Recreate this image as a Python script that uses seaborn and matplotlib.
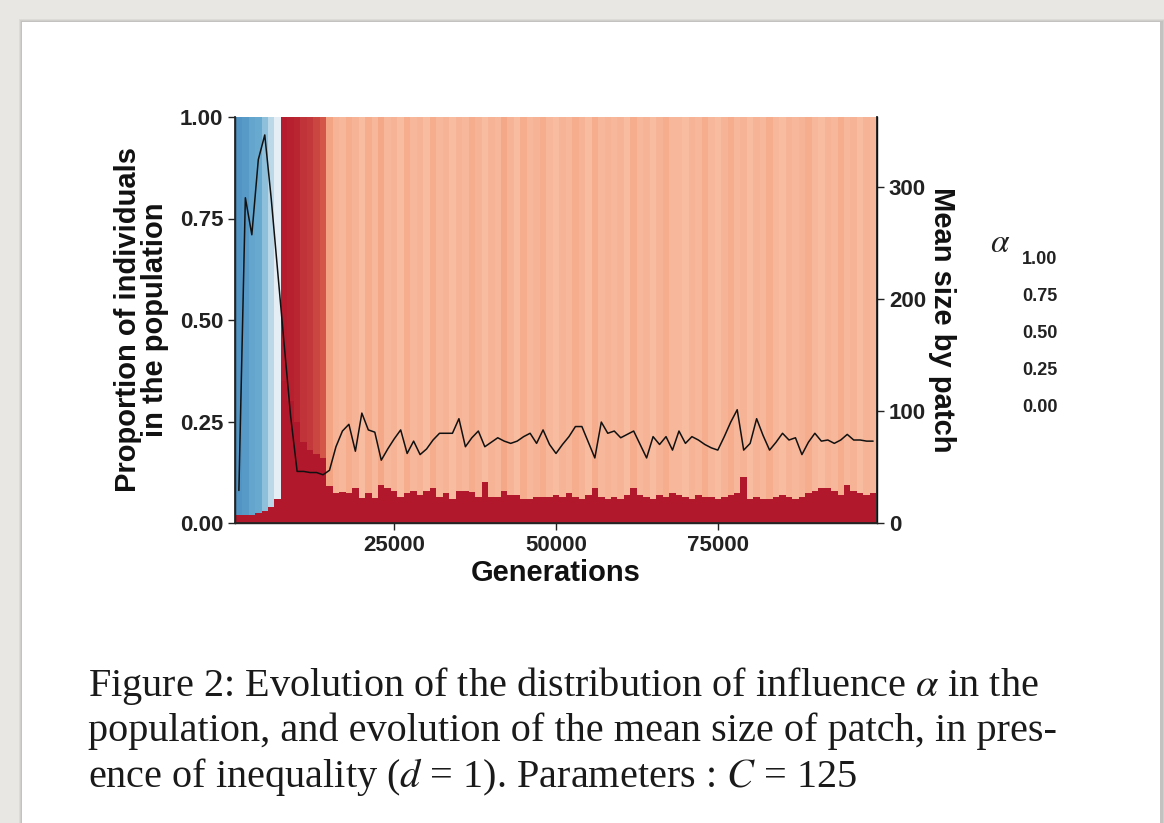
import numpy as np
import pandas as pd
import seaborn as sns
import matplotlib.pyplot as plt
from matplotlib.colors import LinearSegmentedColormap
from matplotlib.patches import Rectangle

# ---- data (one bar / point every 1000 generations) ----
generations = list(range(1000, 100000, 1000))

# share of individuals with alpha = 0 (dark red band at the bottom)
p_zero = [0.02, 0.02, 0.02, 0.025, 0.03, 0.04, 0.06, 0.35, 0.30, 0.25,
          0.20, 0.18, 0.17, 0.16, 0.09, 0.074, 0.077, 0.074, 0.086, 0.062,
          0.074, 0.062, 0.094, 0.086, 0.08, 0.065, 0.074, 0.08, 0.07, 0.08,
          0.086, 0.065, 0.074, 0.06, 0.08, 0.08, 0.077, 0.065, 0.10, 0.065,
          0.065, 0.08, 0.07, 0.07, 0.06, 0.06, 0.065, 0.065, 0.065, 0.07,
          0.065, 0.075, 0.065, 0.06, 0.07, 0.085, 0.065, 0.06, 0.065, 0.06,
          0.07, 0.085, 0.07, 0.065, 0.06, 0.07, 0.065, 0.075, 0.07, 0.065,
          0.06, 0.07, 0.065, 0.065, 0.06, 0.065, 0.07, 0.075, 0.113, 0.06,
          0.065, 0.06, 0.06, 0.065, 0.07, 0.065, 0.06, 0.065, 0.075, 0.08,
          0.086, 0.086, 0.08, 0.07, 0.094, 0.08, 0.074, 0.07, 0.074]

# alpha value of the rest of the population
alpha_main = [0.88, 0.87, 0.84, 0.83, 0.77, 0.70, 0.58, 0.01, 0.015, 0.02,
              0.04, 0.05, 0.07, 0.09, 0.22, 0.25, 0.26, 0.24, 0.25, 0.27,
              0.24, 0.26, 0.23, 0.26, 0.25, 0.27, 0.24, 0.26, 0.25, 0.27,
              0.24, 0.26, 0.25, 0.27, 0.25, 0.26, 0.24, 0.25, 0.27, 0.25,
              0.26, 0.23, 0.25, 0.27, 0.24, 0.26, 0.25, 0.24, 0.26, 0.27,
              0.25, 0.26, 0.24, 0.25, 0.27, 0.24, 0.26, 0.25, 0.26, 0.25,
              0.27, 0.24, 0.26, 0.25, 0.27, 0.25, 0.24, 0.26, 0.26, 0.27,
              0.25, 0.26, 0.24, 0.26, 0.27, 0.25, 0.24, 0.26, 0.25, 0.27,
              0.25, 0.26, 0.24, 0.26, 0.27, 0.25, 0.26, 0.25, 0.24, 0.26,
              0.27, 0.25, 0.26, 0.24, 0.26, 0.25, 0.27, 0.25, 0.26]

mean_size = [29, 290, 257, 324, 346, 289, 224, 159, 95, 46,
             46, 45, 45, 43, 47, 68, 82, 88, 64, 98,
             83, 81, 56, 66, 75, 83, 62, 73, 61, 66,
             74, 80, 80, 80, 93, 68, 76, 82, 68, 72,
             76, 73, 71, 73, 77, 80, 71, 83, 70, 62,
             70, 77, 86, 86, 72, 58, 90, 80, 82, 76,
             79, 82, 70, 58, 77, 70, 77, 65, 82, 71,
             77, 74, 70, 67, 65, 77, 90, 101, 65, 71,
             93, 78, 65, 72, 80, 74, 76, 61, 72, 80,
             73, 74, 71, 74, 79, 74, 74, 73, 73]

x_ticks = [25000, 50000, 75000]
left_ticks = [0.0, 0.25, 0.5, 0.75, 1.0]
right_ticks = [0, 100, 200, 300]
legend_labels = ["1.00", "0.75", "0.50", "0.25", "0.00"]

df = pd.DataFrame({"gen": generations, "p0": p_zero,
                   "alpha": alpha_main, "size": mean_size})

sns.set_theme(style="ticks")
plt.rcParams['font.family'] = ['Liberation Sans', 'DejaVu Sans']
plt.rcParams['mathtext.fontset'] = 'stix'

# RdBu (ggplot distiller style, 7 colours) : alpha 0 = red, 1 = blue
cmap = LinearSegmentedColormap.from_list(
    "rdbu7", ["#B2182B", "#EF8A62", "#FDDBC7", "#F7F7F7",
              "#D1E5F0", "#67A9CF", "#2166AC"])

fig = plt.figure(figsize=(11.64, 8.23), dpi=100)
fig.patch.set_facecolor("#E8E7E3")

# white "card" with a soft shadow, kept behind the axes
for i, a in enumerate([0.05, 0.05, 0.06]):
    fig.patches.append(Rectangle(((22 - 3 + i) / 1164, 0), (1140 + 6 - 2 * i) / 1164,
                                 (801 + 3 - i) / 823, transform=fig.transFigure,
                                 facecolor="black", alpha=a, edgecolor="none", zorder=-5))
fig.patches.append(Rectangle((22 / 1164, 0), 1138 / 1164, 801 / 823,
                             transform=fig.transFigure, facecolor="white",
                             edgecolor="none", zorder=-4))

ax = fig.add_axes([235 / 1164, 1 - 523 / 823, 642 / 1164, 406 / 823])
ax.set_facecolor("white")

# stacked bars : alpha = 0 at the bottom, the rest on top
ax.bar(df["gen"], df["p0"], width=1000, color=cmap(0.0), linewidth=0)
ax.bar(df["gen"], 1 - df["p0"], bottom=df["p0"], width=1000,
       color=[cmap(a) for a in df["alpha"]], linewidth=0)

ax.set_xlim(400, 99600)
ax.set_ylim(0, 1)
ax.set_xticks(x_ticks)
ax.set_xticklabels([str(t) for t in x_ticks])
ax.set_yticks(left_ticks)
ax.set_yticklabels(["%.2f" % t for t in left_ticks])

tick_kw = dict(labelsize=16, colors="#222222", length=5, width=1)
ax.tick_params(axis="both", **tick_kw)
for lab in ax.get_xticklabels() + ax.get_yticklabels():
    lab.set_fontweight("bold")

ax.set_xlabel("Generations", fontsize=21, fontweight="bold", color="#111111", labelpad=2)
ax.set_ylabel("Proportion of individuals\nin the population", fontsize=21,
              fontweight="bold", color="#111111", labelpad=8, linespacing=0.95)

for s in ["left", "bottom", "right"]:
    ax.spines[s].set_color("#111111")
    ax.spines[s].set_linewidth(1.0)
ax.spines["top"].set_visible(False)

# mean patch size on a second axis
ax2 = ax.twinx()
sns.lineplot(data=df, x="gen", y="size", ax=ax2, color="#111111", linewidth=1.1)
ax2.set_ylim(0, 362)
ax2.set_yticks(right_ticks)
ax2.set_yticklabels([str(t) for t in right_ticks])
ax2.tick_params(axis="y", **tick_kw)
for lab in ax2.get_yticklabels():
    lab.set_fontweight("bold")
ax2.set_xlabel("")
ax2.set_ylabel("Mean size by patch", fontsize=21, fontweight="bold",
               color="#111111", rotation=270, labelpad=22)
ax2.spines["top"].set_visible(False)
ax2.spines["right"].set_color("#111111")

# legend (title and labels only, as in the source)
fig.text(1000 / 1164, 1 - 243 / 823, r"$\alpha$", fontsize=24, ha="center",
         va="center", color="#222222")
for i, lab in enumerate(legend_labels):
    fig.text(1022 / 1164, 1 - (259 + i * 37.2) / 823, lab, fontsize=13,
             fontweight="bold", ha="left", va="center", color="#222222")

# caption
caption = [r"Figure 2: Evolution of the distribution of influence $\alpha$ in the",
           r"population, and evolution of the mean size of patch, in pres-",
           r"ence of inequality ($d$ = 1). Parameters : $C$ = 125"]
for i, line in enumerate(caption):
    fig.text(88 / 1164, 1 - (686 + i * 45.5) / 823, line, fontsize=29,
             family="Liberation Serif", ha="left", va="center", color="#1a1a1a")

fig.savefig("out.png", dpi=100, facecolor=fig.get_facecolor())
